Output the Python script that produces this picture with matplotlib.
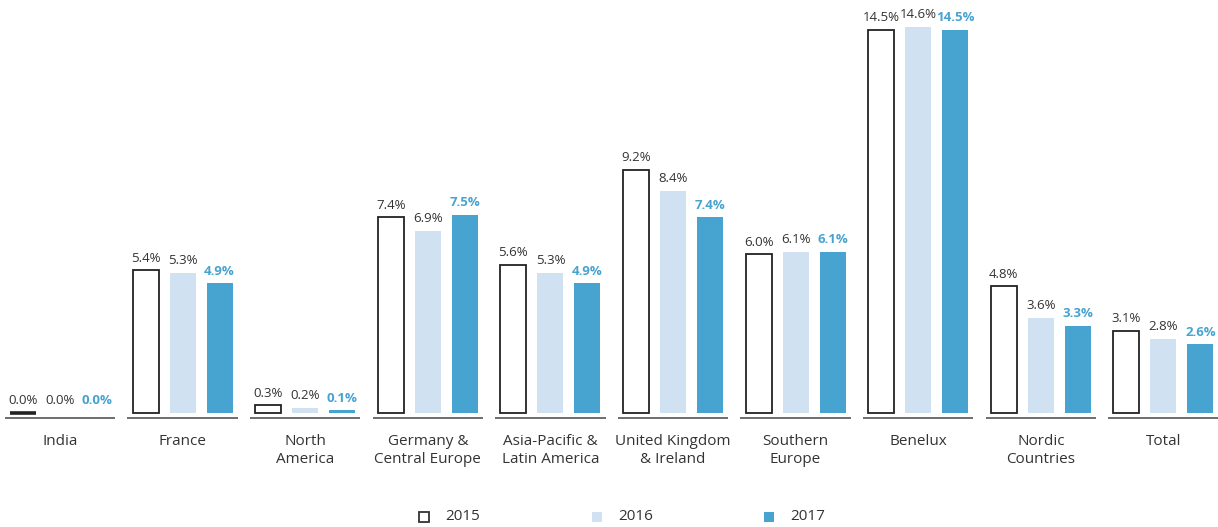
import matplotlib
matplotlib.use("Agg")
import matplotlib.pyplot as plt
import numpy as np

categories = ["India", "France", "North\nAmerica", "Germany &\nCentral Europe", "Asia-Pacific &\nLatin America",
              "United Kingdom\n& Ireland", "Southern\nEurope", "Benelux", "Nordic\nCountries", "Total"]
years = ["2015", "2016", "2017"]
v2015 = [0.0, 5.4, 0.3, 7.4, 5.6, 9.2, 6.0, 14.5, 4.8, 3.1]
v2016 = [0.0, 5.3, 0.2, 6.9, 5.3, 8.4, 6.1, 14.6, 3.6, 2.8]
v2017 = [0.0, 4.9, 0.1, 7.5, 4.9, 7.4, 6.1, 14.5, 3.3, 2.6]

plt.rcParams['font.family'] = ['Open Sans', 'DejaVu Sans']
TXT = '#333333'
C16 = '#d0e2f1'
C17 = '#47a3d0'

fig = plt.figure(figsize=(12.18, 5.27), dpi=100)
ax = fig.add_axes([0, 0.1962, 1, 0.8038])
ax.set_xlim(-0.489, 9.445)
ax.set_ylim(-0.4, 15.62)
ax.axis('off')

x = np.arange(len(categories))
off = 0.302
w = 0.212
bars15 = ax.bar(x - off, v2015, w, facecolor='white', edgecolor='#222222', linewidth=1.3)
for b, v in zip(bars15, v2015):
    if v == 0:
        b.set_linewidth(2.6)
ax.bar(x, v2016, w, color=C16)
ax.bar(x + off, v2017, w, color=C17)

for i in range(len(categories)):
    ax.plot([i - 0.45, i + 0.45], [-0.19, -0.19], color='#555555', lw=1.2, solid_capstyle='butt')
    for dx, v, col, fw in [(-off, v2015[i], TXT, 'normal'), (0, v2016[i], TXT, 'normal'), (off, v2017[i], C17, 'bold')]:
        ax.annotate(f"{v:.1f}%", (i + dx, v), xytext=(0, 4), textcoords='offset points',
                    ha='center', va='bottom', fontsize=9.5, color=col, fontweight=fw)
    ax.text(i, -0.8, categories[i], ha='center', va='top', fontsize=11, color=TXT, linespacing=1.25)

# legend
from matplotlib.patches import Rectangle
lx = [424, 597, 769]
styles = [dict(facecolor='white', edgecolor='#333333', lw=1.3), dict(facecolor=C16, edgecolor='none'),
          dict(facecolor=C17, edgecolor='none')]
for px, yr, st in zip(lx, years, styles):
    fig.patches.append(Rectangle(((px - 5) / 1218, (527 - 522) / 527), 10 / 1218, 10 / 527,
                                 transform=fig.transFigure, **st))
    fig.text((px + 21) / 1218, (527 - 517) / 527, yr, ha='left', va='center', fontsize=11, color=TXT)

fig.savefig("out.png", dpi=100)
